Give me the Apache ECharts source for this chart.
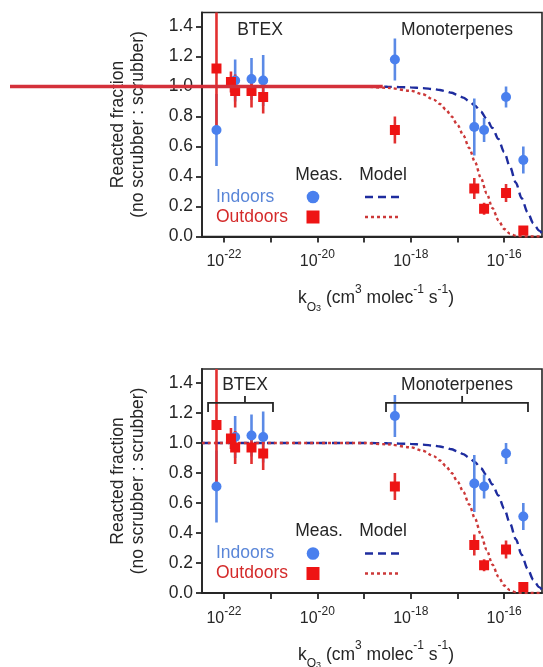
<!DOCTYPE html>
<html>
<head>
<meta charset="utf-8">
<script src="https://cdn.jsdelivr.net/npm/echarts@6/dist/echarts.min.js"></script>
<style>
  html, body { margin: 0; padding: 0; background: #fff; }
  #chart { width: 543px; height: 667px; }
</style>
</head>
<body>
<div id="chart"></div>
<script>
// x values are log10(k_O3)
const indoorK = [-22.16, -21.76, -21.41, -21.16, -18.34, -16.64, -16.43, -15.96, -15.59];
const indoorVal = [0.71, 1.04, 1.05, 1.04, 1.18, 0.73, 0.71, 0.93, 0.51];
const indoorErr = [0.24, 0.14, 0.14, 0.17, 0.14, 0.19, 0.08, 0.07, 0.09];

const outdoorK = [-22.16, -21.85, -21.76, -21.41, -21.16, -18.34, -16.64, -16.43, -15.96, -15.59];
const outdoorVal = [1.12, 1.03, 0.97, 0.97, 0.93, 0.71, 0.32, 0.185, 0.29, 0.04];
const outdoorErr = [0.40, 0.07, 0.11, 0.11, 0.11, 0.09, 0.07, 0.04, 0.06, 0.03];

// model curves
const modelK = [-22.47, -19, -18.5, -18, -17.75, -17.5, -17.375, -17.25, -17.125, -17, -16.875, -16.75,
  -16.625, -16.5, -16.375, -16.25, -16.125, -16, -15.875, -15.75, -15.625, -15.5, -15.375, -15.25, -15.19];
const modelIndoor = [1, 1, 0.998, 0.994, 0.989, 0.982, 0.977, 0.968, 0.958, 0.944, 0.926, 0.902,
  0.872, 0.833, 0.784, 0.723, 0.650, 0.563, 0.464, 0.358, 0.255, 0.162, 0.088, 0.039, 0.022];
const modelOutdoor = [1, 1, 0.991, 0.971, 0.949, 0.911, 0.883, 0.847, 0.80, 0.744, 0.675, 0.591,
  0.497, 0.392, 0.288, 0.189, 0.109, 0.05, 0.019, 0.005, 0.001, 0, 0, 0, 0];

const yTicks = [0, 0.2, 0.4, 0.6, 0.8, 1.0, 1.2, 1.4];
const xTicks = [-22, -21, -20, -19, -18, -17, -16];
const xLabels = [-22, -20, -18, -16];

// brackets (bottom panel): [from, to, centre]
const btexRange = [-22.34, -20.95, -21.55];
const monoRange = [-18.53, -15.49, -16.90];

const FONT = '"Liberation Sans", Arial, sans-serif';
const BLUE = '#4a80ee';
const BLUE_BAR = '#5b8ae6';
const RED = '#ee1414';
const RED_BAR = '#e23030';
const NAVY = '#1e2c9e';
const MODEL_RED = '#cc3838';

const chart = echarts.init(document.getElementById('chart'));

const grids = [
  { left: 202, top: 12.5, width: 340, height: 224 },
  { left: 202, top: 369, width: 340, height: 224 }
];
grids.forEach(g => { g.show = true; g.borderColor = '#262626'; g.borderWidth = 1.6; g.backgroundColor = 'transparent'; });

function xAxisFor(i, margin) {
  return {
    type: 'value', gridIndex: i, min: -22.47, max: -15.19,
    axisLine: { show: true, onZero: false, lineStyle: { color: '#262626', width: 1.8 } },
    axisTick: { show: true, length: 6, customValues: xTicks, lineStyle: { color: '#262626', width: 1.8 } },
    splitLine: { show: false },
    axisLabel: {
      customValues: xLabels, margin: margin, color: '#262626',
      formatter: v => '{b|10}{s|' + Math.round(v) + '}',
      rich: {
        b: { fontFamily: FONT, fontSize: 16, lineHeight: 26, color: '#262626' },
        s: { fontFamily: FONT, fontSize: 12, lineHeight: 12, verticalAlign: 'top', color: '#262626' }
      }
    }
  };
}

function yAxisFor(i) {
  return {
    type: 'value', gridIndex: i, min: 0, max: 224 / 150,
    axisLine: { show: true, lineStyle: { color: '#262626', width: 1.8 } },
    axisTick: { show: true, length: 6, customValues: yTicks, lineStyle: { color: '#262626', width: 1.8 } },
    splitLine: { show: false },
    axisLabel: {
      customValues: yTicks, margin: 9, color: '#262626',
      fontFamily: FONT, fontSize: 17.5,
      formatter: v => v.toFixed(1)
    }
  };
}

function errorBars(i, ks, vals, errs, color, z) {
  return {
    type: 'custom', xAxisIndex: i, yAxisIndex: i, z: z, silent: true,
    data: ks.map((k, j) => [k, vals[j], errs[j]]),
    renderItem: (params, api) => {
      const x = api.value(0), y = api.value(1), e = api.value(2);
      const top = api.coord([x, Math.min(y + e, 224 / 150)]);
      const bot = api.coord([x, y - e]);
      return {
        type: 'line',
        shape: { x1: top[0], y1: top[1], x2: bot[0], y2: bot[1] },
        style: { stroke: color, lineWidth: 2.6 }
      };
    }
  };
}

function modelLine(i, vals, color, dash, z) {
  return {
    type: 'line', xAxisIndex: i, yAxisIndex: i, z: z, silent: true,
    data: modelK.map((k, j) => [k, vals[j]]),
    showSymbol: false, smooth: 0.3, smoothMonotone: 'x',
    lineStyle: { color: color, width: 2.4, type: dash }
  };
}

function points(i, ks, vals, symbol, size, color, z) {
  return {
    type: 'scatter', xAxisIndex: i, yAxisIndex: i, z: z, silent: true,
    data: ks.map((k, j) => [k, vals[j]]),
    symbol: symbol, symbolSize: size,
    itemStyle: { color: color, opacity: 1 }
  };
}

function bracket(i, range) {
  return {
    type: 'custom', xAxisIndex: i, yAxisIndex: i, z: 6, silent: true,
    data: [range],
    renderItem: (params, api) => {
      const a = api.coord([api.value(0), 1.267]);
      const b = api.coord([api.value(1), 1.267]);
      const c = api.coord([api.value(2), 1.267]);
      const endDrop = 9, midRise = 7;
      const st = { stroke: '#262626', lineWidth: 1.8, fill: null };
      return {
        type: 'group',
        children: [
          { type: 'polyline', shape: { points: [[a[0], a[1] + endDrop], a, b, [b[0], b[1] + endDrop]] }, style: st },
          { type: 'line', shape: { x1: c[0], y1: c[1], x2: c[0], y2: c[1] - midRise }, style: st }
        ]
      };
    }
  };
}

const series = [];
[0, 1].forEach(i => {
  series.push(modelLine(i, modelIndoor, NAVY, [8, 5], 1));
  series.push(modelLine(i, modelOutdoor, MODEL_RED, [3, 3], 1));
  series.push(errorBars(i, indoorK, indoorVal, indoorErr, BLUE_BAR, 2));
  series.push(errorBars(i, outdoorK, outdoorVal, outdoorErr, RED_BAR, 3));
  series.push(points(i, indoorK, indoorVal, 'circle', 10, BLUE, 4));
  series.push(points(i, outdoorK, outdoorVal, 'rect', 10, RED, 5));
});
series.push(bracket(1, btexRange));
series.push(bracket(1, monoRange));

function txt(x, y, text, color, align) {
  return {
    type: 'text', x: x, y: y, z: 10,
    style: { text: text, fill: color || '#262626', font: '17.5px ' + FONT, align: align || 'center', verticalAlign: 'middle' }
  };
}

function panelGraphics(g, brackets) {
  const top = grids[g].top;
  const dy = top - 12.5;
  const yMid = top + grids[g].height / 2;
  const zero = top + grids[g].height;
  const lab = brackets ? 16 : 17.5;
  return [
    txt(brackets ? 245 : 260, top + lab, 'BTEX'),
    txt(457, top + lab, 'Monoterpenes'),
    txt(319, dy + 175, 'Meas.'),
    txt(383, dy + 175, 'Model'),
    txt(216, dy + 197, 'Indoors', '#5a86d8', 'left'),
    txt(216, dy + 217, 'Outdoors', '#d42a2a', 'left'),
    { type: 'circle', z: 10, shape: { cx: 313, cy: dy + 197, r: 6.3 }, style: { fill: BLUE } },
    { type: 'rect', z: 10, shape: { x: 306.5, y: dy + 210.5, width: 13, height: 13 }, style: { fill: RED } },
    { type: 'line', z: 10, shape: { x1: 365, y1: dy + 197, x2: 399, y2: dy + 197 }, style: { stroke: NAVY, lineWidth: 2.4, lineDash: [8, 5] } },
    { type: 'line', z: 10, shape: { x1: 365, y1: dy + 217, x2: 399, y2: dy + 217 }, style: { stroke: MODEL_RED, lineWidth: 2.4, lineDash: [3, 3] } },
    {
      type: 'text', x: 128, y: yMid, rotation: Math.PI / 2, z: 10,
      style: { text: 'Reacted fraction\n(no scrubber : scrubber)', fill: '#262626', font: '17.5px ' + FONT, align: 'center', verticalAlign: 'middle', lineHeight: 20 }
    },
    {
      type: 'text', x: 376, y: zero + 62, z: 10,
      style: {
        text: '{n|k}{o|O}{t|3}{n| (cm}{p|3}{n| molec}{p|-1}{n| s}{p|-1}{n|)}',
        align: 'center', verticalAlign: 'middle', fill: '#262626',
        rich: {
          n: { fontFamily: FONT, fontSize: 17.5, lineHeight: 30, fill: '#262626' },
          p: { fontFamily: FONT, fontSize: 12, lineHeight: 14, verticalAlign: 'top', fill: '#262626' },
          o: { fontFamily: FONT, fontSize: 12, lineHeight: 14, verticalAlign: 'bottom', fill: '#262626' },
          t: { fontFamily: FONT, fontSize: 9, lineHeight: 3, verticalAlign: 'bottom', fill: '#262626' }
        }
      }
    }
  ];
}

chart.setOption({
  animation: false,
  backgroundColor: '#fff',
  grid: grids,
  xAxis: [xAxisFor(0, 12), xAxisFor(1, 13)],
  yAxis: [yAxisFor(0), yAxisFor(1)],
  series: series,
  graphic: { elements: panelGraphics(0, false).concat(panelGraphics(1, true)) }
});

// red marker line across the top panel at y = 1.0
const endPt = chart.convertToPixel({ gridIndex: 0 }, [-18.6, 1.0]);
chart.setOption({
  graphic: { elements: [{
    id: 'overlay', type: 'line', z: 50,
    shape: { x1: 10, y1: endPt[1], x2: endPt[0], y2: endPt[1] },
    style: { stroke: '#d4303a', lineWidth: 3.4 }
  }] }
});
</script>
</body>
</html>
